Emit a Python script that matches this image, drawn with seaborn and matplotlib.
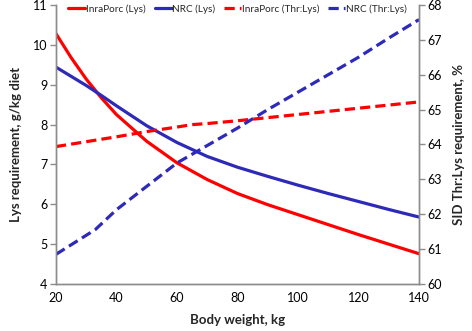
import matplotlib
matplotlib.use("Agg")
import matplotlib.pyplot as plt
import seaborn as sns

sns.set_theme(style="white")
plt.rcParams["font.family"] = ["Lato", "DejaVu Sans"]

# ── data ─────────────────────────────────────────────────────────────────────
bw = [20, 25, 30, 35, 40, 50, 60, 70, 80, 90, 100, 110, 120, 130, 140]
inra_lys = [10.28, 9.68, 9.14, 8.67, 8.25, 7.58, 7.04, 6.62, 6.27, 5.99, 5.74, 5.49, 5.24, 5.0, 4.76]
nrc_lys = [9.44, 9.21, 8.98, 8.73, 8.47, 7.97, 7.55, 7.2, 6.93, 6.7, 6.48, 6.27, 6.07, 5.87, 5.68]

bw_inra_thr = [20, 30, 40, 50, 60, 65, 70, 80, 90, 100, 110, 120, 130, 140]
inra_thr = [63.94, 64.08, 64.22, 64.37, 64.5, 64.57, 64.6, 64.68, 64.77, 64.86, 64.95, 65.04, 65.13, 65.22]

bw_nrc_thr = [20, 33, 40, 50, 60, 70, 80, 90, 100, 110, 120, 130, 140]
nrc_thr = [60.85, 61.56, 62.13, 62.8, 63.47, 63.97, 64.47, 65.0, 65.5, 66.0, 66.5, 67.05, 67.58]

RED = "#FF0000"
BLUE = "#2E2AB8"
GREY = "#8C8C8C"

fig = plt.figure(figsize=(4.72, 3.31), dpi=100)
ax = fig.add_axes([0.1186, 0.142, 0.769, 0.843])
ax2 = ax.twinx()

lw = 2.3
dash = (3.2, 1.6)
sns.lineplot(x=bw, y=inra_lys, ax=ax, color=RED, lw=lw, label="InraPorc (Lys)", legend=False)
sns.lineplot(x=bw, y=nrc_lys, ax=ax, color=BLUE, lw=lw, label="NRC (Lys)", legend=False)
sns.lineplot(x=bw_inra_thr, y=inra_thr, ax=ax2, color=RED, lw=lw,
             label="InraPorc (Thr:Lys)", legend=False).lines[-1].set_dashes(dash)
sns.lineplot(x=bw_nrc_thr, y=nrc_thr, ax=ax2, color=BLUE, lw=lw,
             label="NRC (Thr:Lys)", legend=False).lines[-1].set_dashes(dash)

ax.set_xlim(20, 140)
ax.set_ylim(4, 11)
ax2.set_ylim(60, 68)
ax.set_xticks(range(20, 141, 20))
ax.set_yticks(range(4, 12))
ax2.set_yticks(range(60, 69))

for a in (ax, ax2):
    a.spines["top"].set_visible(False)
    for s in ("left", "right", "bottom"):
        a.spines[s].set_color(GREY)
        a.spines[s].set_linewidth(1.0)
    a.tick_params(labelsize=9, colors="black", length=4, width=1.0, color=GREY, pad=2)
ax.tick_params(axis="both", direction="out")
ax2.tick_params(axis="y", direction="out")
ax.grid(False); ax2.grid(False)

ax.set_xlabel("Body weight, kg", fontsize=9.5, fontweight="bold", labelpad=7)
ax.set_ylabel("Lys requirement, g/kg diet", fontsize=9.5, fontweight="bold", labelpad=8)
ax2.set_ylabel("SID Thr:Lys requirement, %", fontsize=9.5, fontweight="bold", labelpad=8)

h1, l1 = ax.get_legend_handles_labels()
h2, l2 = ax2.get_legend_handles_labels()
leg = ax2.legend(h1 + h2, l1 + l2, loc="upper center", bbox_to_anchor=(0.5, 1.035),
                 ncol=4, frameon=False, fontsize=7.2, handlelength=1.7,
                 handletextpad=0.05, columnspacing=0.9)

fig.savefig("out.png", dpi=100)
